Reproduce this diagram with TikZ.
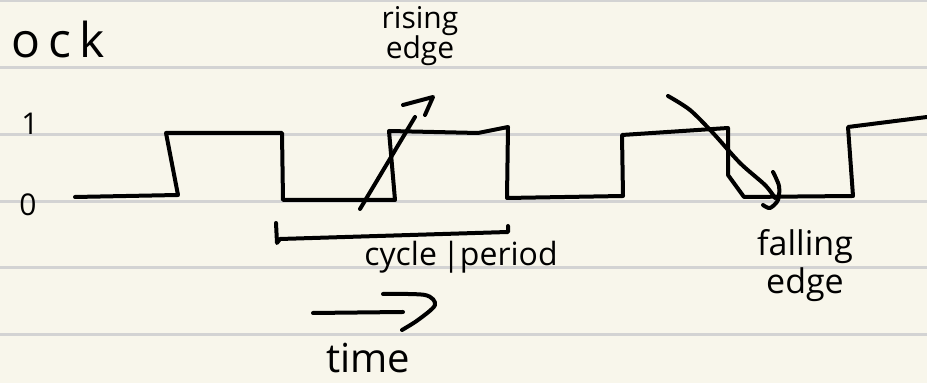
\documentclass[tikz,border=0pt]{standalone}
\usepackage{fontspec}
\setmainfont{Open Sans}
\definecolor{paper}{HTML}{F8F6EB}
\definecolor{ruling}{HTML}{D3D3D3}
\tikzset{
  ink/.style={line width=2pt, line cap=round, line join=round},
  note/.style={inner sep=0pt, align=center},
}
\begin{document}
\begin{tikzpicture}[x=0.5pt,y=-0.5pt]
  % lined paper
  \fill[paper] (0,0) rectangle (927,383);
  \useasboundingbox (0,0) rectangle (927,383);
  \foreach \k in {0,...,5}
    \draw[ruling, line width=1.5pt] (0,{1+66.7*\k}) -- (927,{1+66.7*\k});

  % labels
  \node[note, font=\fontsize{24}{24}\selectfont] (clock) at (58,40) {o\,c\,k};
  \node[note, font=\fontsize{15}{15}\selectfont] (one) at (30,124) {1};
  \node[note, font=\fontsize{15}{15}\selectfont] (zero) at (28,205) {0};

  % the clock signal
  \draw[ink] (75,197) -- (178,195) -- (166,133) -- (282,133) -- (283,200)
    -- (395,200) -- (389,131) -- (478,133) -- (508,127) -- (507,198)
    -- (623,196) -- (622,135) -- (728,128) -- (728,175) -- (744,197)
    -- (853,196) -- (848,127) -- (927,117);

  % rising edge
  \node[note, font=\fontsize{15}{15}\selectfont] (rise) at (420,36) {rising\\edge};
  \draw[ink] (360,209) -- (415,117);
  \draw[ink] (403,105) -- (433,97) -- (425,115);

  % falling edge
  \node[note, font=\fontsize{17}{19}\selectfont] (fall) at (805,266) {falling\\edge};
  \draw[ink] plot[smooth] coordinates {(668,96) (690,110) (713,133) (740,163) (765,185) (775,198)};
  \draw[ink] plot[smooth] coordinates {(773,172) (779,186) (778,200) (770,208) (763,205)};

  % one cycle
  \draw[ink] (276,223) -- (277,243) -- (280,239) -- (508,232) -- (508,226);
  \node[note, font=\fontsize{16}{16}\selectfont] (period) at (461,257) {cycle\,|period};

  % time arrow
  \draw[ink] (313,313) -- (403,312);
  \draw[ink] plot[smooth] coordinates {(383,294) (425,295) (435,305) (418,320) (402,330)};
  \node[note, font=\fontsize{20}{20}\selectfont] (time) at (368,358) {time};
\end{tikzpicture}
\end{document}
